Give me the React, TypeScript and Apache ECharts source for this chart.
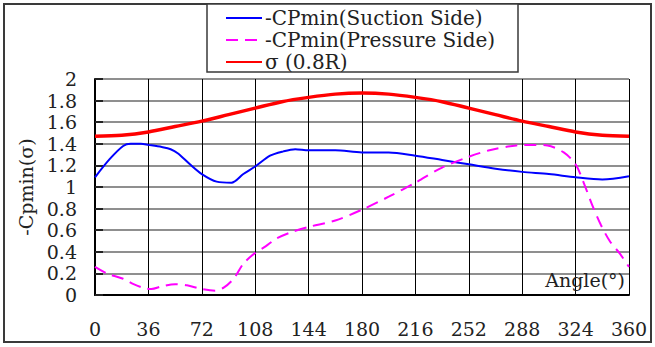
import React, { useEffect, useRef } from "react";
import * as echarts from "echarts";

// Suction side -Cpmin along the blade angle
const suctionAngles = [0, 10, 19, 24, 31, 36, 45, 51, 56, 64, 72, 82, 92, 100, 108, 118, 127, 135, 144, 162, 180, 198, 216, 234, 252, 270, 288, 306, 324, 342, 360];
const suctionValues = [1.09, 1.26, 1.38, 1.4, 1.4, 1.39, 1.37, 1.35, 1.31, 1.21, 1.12, 1.05, 1.04, 1.12, 1.19, 1.29, 1.33, 1.35, 1.34, 1.34, 1.32, 1.32, 1.29, 1.25, 1.21, 1.17, 1.14, 1.12, 1.09, 1.07, 1.1];

// Pressure side -Cpmin
const pressureAngles = [0, 8, 19, 26, 34, 38, 45, 54, 62, 72, 81, 87, 94, 100, 108, 115, 122, 132, 144, 162, 180, 198, 216, 234, 252, 266, 284, 297, 305, 316, 324, 330, 335, 341, 347, 354, 360];
const pressureValues = [0.26, 0.2, 0.15, 0.1, 0.06, 0.055, 0.08, 0.1, 0.09, 0.055, 0.04, 0.07, 0.16, 0.29, 0.39, 0.45, 0.52, 0.58, 0.63, 0.69, 0.79, 0.91, 1.04, 1.18, 1.28, 1.34, 1.385, 1.39, 1.385, 1.32, 1.21, 1.02, 0.84, 0.65, 0.5, 0.38, 0.26];

// Cavitation number at 0.8R
const sigmaAngles = [0, 18, 36, 54, 72, 90, 108, 126, 144, 162, 180, 198, 216, 234, 252, 270, 288, 306, 324, 342, 360];
const sigmaValues = [1.47, 1.48, 1.51, 1.56, 1.61, 1.67, 1.73, 1.79, 1.83, 1.86, 1.87, 1.86, 1.83, 1.79, 1.73, 1.67, 1.61, 1.56, 1.51, 1.48, 1.47];

const seriesNames = ["-CPmin(Suction Side)", "-CPmin(Pressure Side)", "σ (0.8R)"];
const xAxisTitle = "Angle(°)";
const yAxisTitle = "-Cpmin(σ)";

const FONT = "DejaVu Serif";
const FS = 19;
const LEGEND_FS = 20;

const zip = (xs: number[], ys: number[]) => xs.map((x, i) => [x, ys[i]]);

export default function App() {
  const ref = useRef<HTMLDivElement>(null);

  useEffect(() => {
    if (!ref.current) return;
    const chart = echarts.init(ref.current, undefined, { renderer: "svg" });
    chart.setOption({
      animation: false,
      backgroundColor: "#ffffff",
      textStyle: { fontFamily: FONT },
      grid: { left: 95, right: 26, top: 79, bottom: 52 },
      graphic: [
        {
          type: "rect",
          shape: { x: 4, y: 4, width: 647, height: 338 },
          style: { fill: "none", stroke: "#3a3a3a", lineWidth: 2 },
          z: -1,
        },
        {
          type: "rect",
          shape: { x: 207, y: 4, width: 311, height: 68 },
          style: { fill: "#ffffff", stroke: "#3a3a3a", lineWidth: 1.5 },
          z: 0,
        },
        {
          type: "text",
          right: 30,
          top: 270,
          style: { text: xAxisTitle, fontFamily: FONT, fontSize: FS, fill: "#222", textAlign: "right" },
          z: 10,
        },
      ],
      legend: {
        orient: "vertical",
        left: 225,
        top: 8,
        itemWidth: 36,
        itemHeight: 12,
        itemGap: 2,
        padding: 0,
        itemStyle: { opacity: 0 },
        textStyle: { fontFamily: FONT, fontSize: LEGEND_FS, color: "#222", padding: [0, 0, 0, -2] },
        data: seriesNames,
        z: 5,
      },
      xAxis: {
        type: "value",
        min: 0,
        max: 360,
        interval: 36,
        axisLine: { show: true, onZero: false, lineStyle: { color: "#000", width: 2 } },
        axisTick: { show: false },
        axisLabel: { margin: 24, fontSize: FS, color: "#222", fontFamily: FONT },
        splitLine: { show: true, lineStyle: { color: "#000", width: 1 } },
      },
      yAxis: {
        type: "value",
        min: 0,
        max: 2,
        interval: 0.2,
        name: yAxisTitle,
        nameLocation: "middle",
        nameGap: 58,
        nameTextStyle: { fontSize: FS, color: "#222", fontFamily: FONT },
        axisLine: { show: true, lineStyle: { color: "#000", width: 2 } },
        axisTick: { show: true, inside: true, length: 8, lineStyle: { color: "#222", width: 2 } },
        axisLabel: { margin: 18, fontSize: FS, color: "#222", fontFamily: FONT },
        splitLine: { show: true, lineStyle: { color: "#6a6a6a", width: 1.6 } },
      },
      series: [
        {
          name: seriesNames[0],
          type: "line",
          data: zip(suctionAngles, suctionValues),
          smooth: 0.3,
          symbol: "none",
          lineStyle: { color: "#0000ff", width: 2 },
          itemStyle: { color: "#0000ff" },
          z: 3,
        },
        {
          name: seriesNames[1],
          type: "line",
          data: zip(pressureAngles, pressureValues),
          smooth: 0.3,
          symbol: "none",
          lineStyle: { color: "#ff00ff", width: 2, type: [12, 7] },
          itemStyle: { color: "#ff00ff" },
          z: 3,
        },
        {
          name: seriesNames[2],
          type: "line",
          data: zip(sigmaAngles, sigmaValues),
          smooth: 0.3,
          symbol: "none",
          lineStyle: { color: "#ff0000", width: 3.5 },
          itemStyle: { color: "#ff0000" },
          z: 3,
        },
      ],
    });
    return () => chart.dispose();
  }, []);

  return (
    <div
      ref={ref}
      style={{ position: "fixed", left: 0, top: 0, width: 655, height: 347, background: "#fff" }}
    />
  );
}
